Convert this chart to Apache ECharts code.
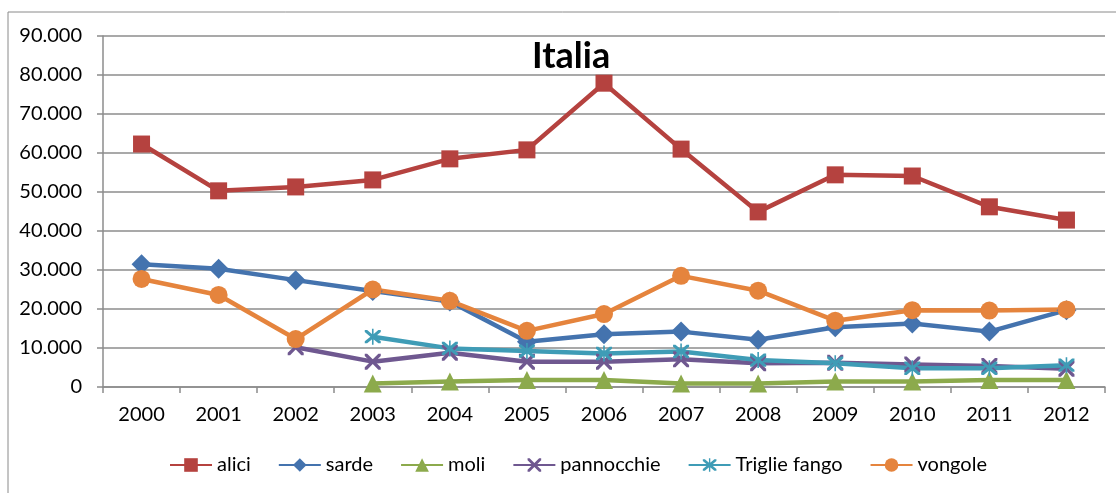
<!DOCTYPE html>
<html>
<head>
<meta charset="utf-8">
<script src="https://cdn.jsdelivr.net/npm/echarts@6/dist/echarts.min.js"></script>
<style>
html,body{margin:0;padding:0;background:#fff;}
#chart{width:1116px;height:493px;}
</style>
</head>
<body>
<div id="chart"></div>
<script>
const years = ['2000','2001','2002','2003','2004','2005','2006','2007','2008','2009','2010','2011','2012'];
const alici = [62300, 50300, 51300, 53100, 58500, 60800, 77900, 61000, 44900, 54400, 54100, 46200, 42800];
const sarde = [31500, 30300, 27400, 24600, 21900, 11600, 13500, 14200, 12100, 15300, 16300, 14200, 19700];
const moli = [null, null, null, 900, 1400, 1800, 1800, 900, 900, 1400, 1400, 1800, 1800];
const pannocchie = [null, null, 10200, 6500, 8800, 6500, 6500, 7100, 6100, 6200, 5800, 5400, 4700];
const triglie = [null, null, null, 12900, 9900, 9200, 8600, 9100, 6900, 6100, 4800, 4800, 5600];
const vongole = [27700, 23600, 12300, 25000, 22100, 14400, 18700, 28500, 24700, 17000, 19700, 19600, 19900];
const yTicks = [0, 10000, 20000, 30000, 40000, 50000, 60000, 70000, 80000, 90000];

const FONT = 'Lato, "Open Sans", sans-serif';
const xPath = 'path://M0,0 L3,0 L10,7 L17,0 L20,0 L20,3 L13,10 L20,17 L20,20 L17,20 L10,13 L3,20 L0,20 L0,17 L7,10 L0,3 Z';
const starPath = 'path://M0,0 L3,0 L10,7 L17,0 L20,0 L20,3 L13,10 L20,17 L20,20 L17,20 L10,13 L3,20 L0,20 L0,17 L7,10 L0,3 Z M9,-2 L11,-2 L11,22 L9,22 Z';

function fmt(v){
  if (v === 0) return '0';
  return String(v).replace(/\B(?=(\d{3})+(?!\d))/g, '.');
}

function mk(name, data, color, symbol, size){
  return {
    name: name, type: 'line', data: data, connectNulls: false,
    symbol: symbol, symbolSize: size, showAllSymbol: true,
    lineStyle: {color: color, width: 4.5},
    itemStyle: {color: color},
    emphasis: {disabled: true},
    animation: false
  };
}

const chart = echarts.init(document.getElementById('chart'));
chart.setOption({
  animation: false,
  backgroundColor: '#fff',
  title: {
    text: 'Italia', left: 527, top: 33,
    textStyle: {fontFamily: FONT, fontWeight: 'bold', fontSize: 36, color: '#000'}
  },
  graphic: [{
    type: 'rect', shape: {x: 8, y: 12, width: 1300, height: 700},
    style: {fill: 'none', stroke: '#8a8a8a', lineWidth: 1}, silent: true, z: -1
  }],
  legend: {
    bottom: 13, left: 164,
    itemWidth: 42, itemHeight: 17, itemGap: 27,
    textStyle: {fontFamily: FONT, fontSize: 20, color: '#000'},
    data: ['alici','sarde','moli','pannocchie','Triglie fango','vongole']
  },
  grid: {left: 103, right: 11, top: 36, bottom: 106, containLabel: false},
  xAxis: {
    type: 'category', data: years, boundaryGap: true,
    axisLine: {lineStyle: {color: '#8c8c8c', width: 1.5}},
    axisTick: {show: true, length: 6, lineStyle: {color: '#8c8c8c', width: 1.5}},
    axisLabel: {fontFamily: FONT, fontSize: 20, color: '#000', margin: 18}
  },
  yAxis: {
    type: 'value', min: 0, max: 90000, interval: 10000,
    axisLine: {show: true, lineStyle: {color: '#8c8c8c', width: 1.5}},
    axisTick: {show: true, length: 6, lineStyle: {color: '#8c8c8c', width: 1.5}},
    splitLine: {lineStyle: {color: '#8c8c8c', width: 1.5}},
    axisLabel: {fontFamily: FONT, fontSize: 20, color: '#000', margin: 21, formatter: fmt}
  },
  series: [
    mk('alici', alici, '#B5423F', 'rect', 17),
    mk('sarde', sarde, '#4473AE', 'diamond', 20),
    mk('moli', moli, '#8CAA4C', 'triangle', 18),
    mk('pannocchie', pannocchie, '#6F5890', xPath, 16),
    mk('Triglie fango', triglie, '#3F9CB6', starPath, 16),
    mk('vongole', vongole, '#E5843D', 'circle', 18)
  ]
});
</script>
</body>
</html>
